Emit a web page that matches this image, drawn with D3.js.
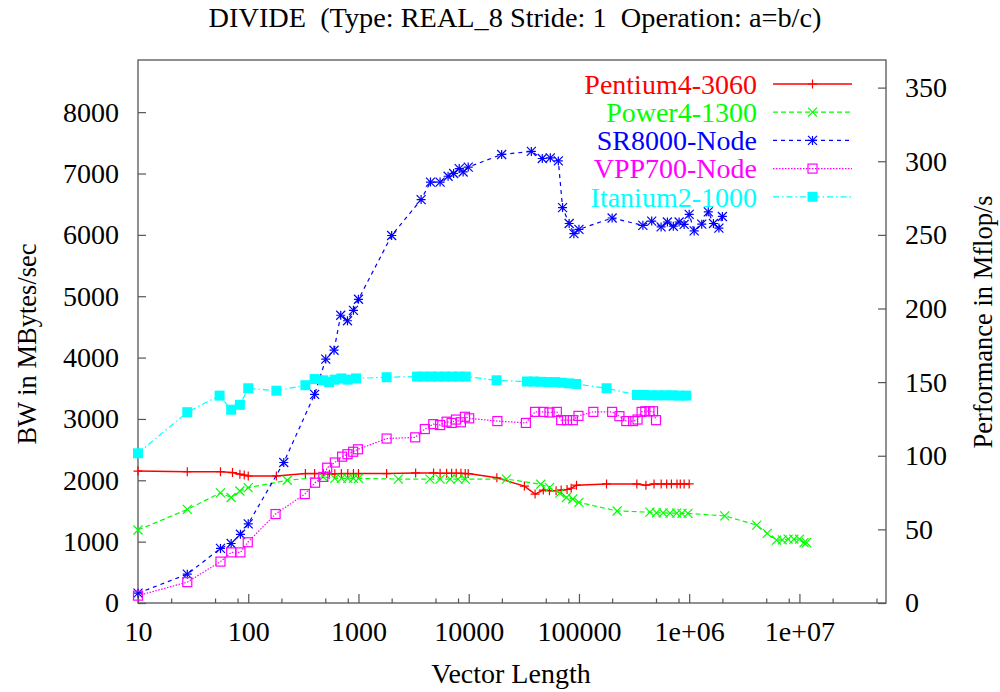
<!DOCTYPE html>
<html>
<head>
<meta charset="utf-8">
<script src="https://cdn.jsdelivr.net/npm/d3@7"></script>
<style>
  body { margin: 0; background: #fff; }
  svg text { font-family: "Liberation Serif", "Times New Roman", Times, "DejaVu Serif", serif; }
</style>
</head>
<body>
<svg width="1000" height="692"></svg>
<script>
// [vector length, MBytes/sec]
const pentium4 = [[10,2150],[28,2140],[56,2140],[72,2125],[84,2100],[92,2085],[100,2070],[180,2070],[330,2110],[400,2110],[480,2110],[545,2100],[610,2105],[700,2110],[800,2110],[900,2110],[1000,2110],[1800,2110],[3300,2120],[4800,2120],[5500,2115],[6300,2115],[7000,2115],[7700,2115],[8500,2115],[9300,2110],[9900,2110],[18000,2040],[32000,1905],[40000,1775],[47500,1840],[54000,1830],[62000,1830],[69000,1840],[78000,1850],[85000,1870],[95000,1920],[178000,1940],[335000,1940],[405000,1920],[480000,1940],[557000,1940],[625000,1940],[690000,1940],[775000,1940],[830000,1940],[900000,1940],[1000000,1940]];

const power4 = [[10,1190],[28,1525],[56,1795],[70,1720],[84,1825],[100,1880],[226,2000],[480,2055],[610,2030],[700,2030],[800,2030],[900,2030],[1000,2030],[2300,2020],[4450,2020],[5500,2020],[6800,2020],[8000,2020],[9300,2020],[22000,2020],[45000,1935],[54000,1880],[67000,1790],[77000,1720],[88000,1695],[100000,1640],[222000,1500],[440000,1480],[505000,1470],[580000,1470],[670000,1465],[770000,1465],[860000,1460],[975000,1460],[2100000,1420],[4100000,1270],[5100000,1135],[6200000,1025],[7000000,1030],[7900000,1040],[8900000,1040],[10000000,1040],[11000000,985],[11600000,985]];

const sr8000 = [[10,160],[28,470],[56,890],[70,970],[85,1120],[100,1290],[210,2290],[400,3400],[505,3975],[600,4120],[690,4690],[795,4600],[900,4770],[1000,4950],[2000,5990],[3700,6575],[4500,6860],[5500,6860],[6500,6955],[7300,7000],[8200,7080],[8900,7025],[9900,7105],[19900,7310],[37000,7360],[46500,7245],[55000,7255],[65000,7205],[71000,6445],[81500,6185],[90000,6020],[100000,6090],[200000,6275],[380000,6155],[457000,6225],[556000,6130],[634000,6210],[718000,6140],[810000,6210],[900000,6170],[1000000,6335],[1110000,6065],[1300000,6175],[1490000,6375],[1660000,6185],[1860000,6110],[2000000,6300]];

const vpp700 = [[10,120],[28,340],[56,675],[70,825],[85,825],[99,990],[177,1450],[326,1775],[404,1960],[480,2055],[520,2205],[610,2290],[710,2385],[795,2425],[895,2465],[990,2505],[1800,2680],[3270,2700],[4000,2835],[4770,2915],[5500,2900],[6300,2955],[7000,2935],[7660,2990],[8500,2945],[9250,3035],[10100,3010],[18200,2965],[33000,2935],[40000,3115],[47500,3115],[54000,3105],[63000,3115],[69000,2980],[78000,2980],[88000,2980],[99000,3050],[135000,3115],[200000,3115],[233000,3045],[269000,2965],[310000,2965],[340000,2990],[370000,3115],[400000,3125],[436000,3125],[470000,3125],[500000,2980]];

const itanium2 = [[10,2440],[28,3110],[55,3380],[70,3150],[84,3230],[100,3500],[180,3460],[330,3550],[400,3650],[480,3630],[540,3600],[610,3640],[700,3660],[800,3640],[950,3660],[1800,3680],[3400,3690],[3900,3690],[4560,3690],[5260,3690],[6100,3690],[7050,3690],[8150,3690],[9400,3690],[17900,3630],[33700,3610],[39000,3610],[45300,3605],[52500,3600],[60800,3600],[70400,3590],[81500,3580],[94300,3570],[178000,3500],[336000,3390],[390000,3390],[450000,3385],[520000,3385],[610000,3385],[700000,3385],[810000,3380],[940000,3380]];

const seriesNames = ["Pentium4-3060", "Power4-1300", "SR8000-Node", "VPP700-Node", "Itanium2-1000"];
const seriesData = [pentium4, power4, sr8000, vpp700, itanium2];

const xMajorTicks = [10, 100, 1000, 10000, 1e5, 1e6, 1e7];
const xTickLabels = ["10", "100", "1000", "10000", "100000", "1e+06", "1e+07"];
const xMinorTicks = [20,50,80,200,500,800,2000,5000,8000,2e4,5e4,8e4,2e5,5e5,8e5,2e6,5e6,8e6,2e7,5e7];
const yTicks = [0, 1000, 2000, 3000, 4000, 5000, 6000, 7000, 8000];
const y2Ticks = [0, 50, 100, 150, 200, 250, 300, 350];

const colors = ["#ff0000", "#00ff00", "#0000ff", "#ff00ff", "#00ffff"];
const dashes = [null, "5,3", "4,4", "1.5,1.5", "6,3,1.5,3"];
const markers = ["plus", "cross", "star", "box", "fbox"];

const svg = d3.select("svg");
const plotLeft = 138, plotRight = 886, plotTop = 60, plotBottom = 603;
const fontSize = 28;
const rotatedFontSize = 26.5;
const fontFamily = '"Liberation Serif", "Times New Roman", Times, "DejaVu Serif", serif';
const axisColor = "#555";

const x = d3.scaleLog().domain([10, 6.1e7]).range([plotLeft, plotRight]);
const y = d3.scaleLinear().domain([0, 8850]).range([plotBottom, plotTop]);
const y2 = d3.scaleLinear().domain([0, 8850 / 24]).range([plotBottom, plotTop]);

// axes
const styleAxis = (g) => {
  g.attr("font-family", fontFamily).attr("font-size", fontSize);
  g.select(".domain").remove();
  g.selectAll("line").attr("stroke", axisColor).attr("stroke-width", 1.2);
  g.selectAll("text").attr("fill", "#000");
};

svg.append("g")
  .attr("transform", `translate(0, ${plotBottom})`)
  .call(d3.axisBottom(x).tickValues(xMajorTicks).tickSize(-9).tickPadding(18)
    .tickFormat((d, i) => xTickLabels[i]))
  .call(styleAxis);

svg.append("g")
  .attr("transform", `translate(0, ${plotBottom})`)
  .call(d3.axisBottom(x).tickValues(xMinorTicks).tickSize(-4.5).tickFormat(""))
  .call(styleAxis);

svg.append("g")
  .attr("transform", `translate(${plotLeft}, 0)`)
  .call(d3.axisLeft(y).tickValues(yTicks).tickSize(-8).tickPadding(19).tickFormat(d3.format("d")))
  .call(styleAxis);

svg.append("g")
  .attr("transform", `translate(${plotRight}, 0)`)
  .call(d3.axisRight(y2).tickValues(y2Ticks).tickSize(-8).tickPadding(19).tickFormat(d3.format("d")))
  .call(styleAxis);

svg.append("rect")
  .attr("x", plotLeft).attr("y", plotTop)
  .attr("width", plotRight - plotLeft).attr("height", plotBottom - plotTop)
  .attr("fill", "none").attr("stroke", axisColor).attr("stroke-width", 1.3);

// titles
const addText = (txt, size) => svg.append("text")
  .attr("font-family", fontFamily).attr("font-size", size)
  .attr("text-anchor", "middle").text(txt);

addText("DIVIDE\u00a0\u00a0(Type: REAL_8 Stride: 1\u00a0\u00a0Operation: a=b/c)", 28.3)
  .attr("x", 515).attr("y", 27);

addText("Vector Length", fontSize).attr("x", 511).attr("y", 683);

addText("BW in MBytes/sec", rotatedFontSize).attr("transform", "translate(36, 344) rotate(-90)");

addText("Performance in Mflop/s", rotatedFontSize).attr("transform", "translate(992, 322) rotate(-90)");

// marker drawing
function drawMarker(g, type, cx, cy, color) {
  const s = 4.5;
  if (type === "plus" || type === "star") {
    g.append("path").attr("d", `M${cx - s},${cy}H${cx + s}M${cx},${cy - s}V${cy + s}`)
      .attr("stroke", color).attr("stroke-width", 1.2).attr("fill", "none");
  }
  if (type === "cross" || type === "star") {
    g.append("path").attr("d", `M${cx - s},${cy - s}L${cx + s},${cy + s}M${cx - s},${cy + s}L${cx + s},${cy - s}`)
      .attr("stroke", color).attr("stroke-width", 1.2).attr("fill", "none");
  }
  if (type === "box") {
    g.append("rect").attr("x", cx - s).attr("y", cy - s).attr("width", 2 * s).attr("height", 2 * s)
      .attr("stroke", color).attr("stroke-width", 1.2).attr("fill", "none");
  }
  if (type === "fbox") {
    g.append("rect").attr("x", cx - 5).attr("y", cy - 5).attr("width", 10).attr("height", 10)
      .attr("fill", color);
  }
}

const line = d3.line().x((d) => x(d[0])).y((d) => y(d[1]));

seriesData.forEach((data, i) => {
  const g = svg.append("g");
  g.append("path")
    .datum(data)
    .attr("d", line)
    .attr("fill", "none")
    .attr("stroke", colors[i])
    .attr("stroke-width", i === 0 ? 1.5 : 1.2)
    .attr("stroke-dasharray", dashes[i]);
  data.forEach((d) => drawMarker(g, markers[i], x(d[0]), y(d[1]), colors[i]));
});

// legend
const legend = svg.append("g");
seriesNames.forEach((name, i) => {
  const ly = 84 + i * 28.2;
  legend.append("text")
    .attr("x", 757).attr("y", ly).attr("dy", "0.35em")
    .attr("text-anchor", "end")
    .attr("font-family", fontFamily).attr("font-size", fontSize)
    .attr("fill", colors[i])
    .text(name);
  legend.append("line")
    .attr("x1", 773).attr("x2", 852).attr("y1", ly).attr("y2", ly)
    .attr("stroke", colors[i])
    .attr("stroke-width", i === 0 ? 1.5 : 1.2)
    .attr("stroke-dasharray", dashes[i]);
  drawMarker(legend, markers[i], 812.5, ly, colors[i]);
});
</script>
</body>
</html>
